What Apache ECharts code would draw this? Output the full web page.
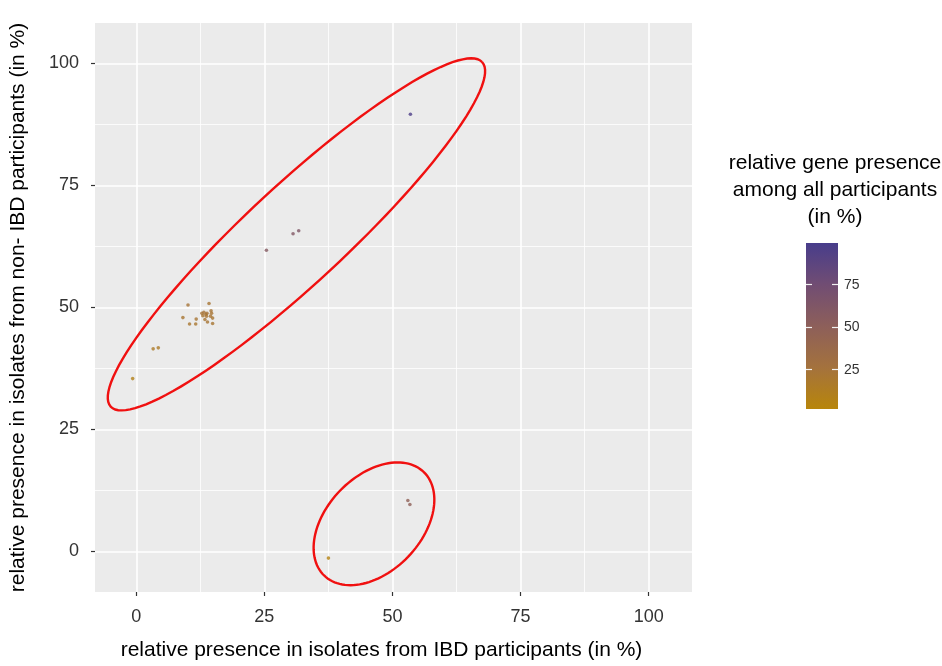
<!DOCTYPE html>
<html>
<head>
<meta charset="utf-8">
<script src="https://cdn.jsdelivr.net/npm/echarts@6/dist/echarts.min.js"></script>
<style>
  html, body { margin: 0; padding: 0; background: #ffffff; }
  #chart { width: 942px; height: 666px; }
</style>
</head>
<body>
<div id="chart"></div>
<script>
// values
const ibdPresence = [53.5, 25.4, 30.6, 31.7, 10.1, 14.2, 14.6, 12.8, 13.2, 13.6, 13.8, 13.0, 13.7, 14.7, 14.5, 14.9, 13.9, 14.9, 11.7, 11.6, 9.1, 10.4, 13.4, 3.3, 4.3, -0.7, 53.0, 53.4, 37.5];
const nonIbdPresence = [89.6, 61.7, 65.1, 65.7, 50.5, 50.8, 49.3, 48.8, 49.0, 48.6, 48.8, 48.3, 48.2, 48.8, 48.2, 47.8, 47.0, 46.7, 47.6, 46.6, 47.9, 46.6, 47.5, 41.5, 41.7, 35.4, 10.4, 9.6, -1.4];
const allPresence = [96, 58, 60, 62, 24, 22, 23, 24, 25, 23, 24, 22, 23, 22, 23, 21, 22, 21, 22, 20, 21, 20, 23, 16, 16, 8, 48, 50, 5];

const majorTicks = [0, 25, 50, 75, 100];
const minorTicks = [12.5, 37.5, 62.5, 87.5];
const legendTicks = [25, 50, 75];

// ellipse outlines: centre, end of the long half-axis, end of the short half-axis
const ellipseCentre = [[31.26, 64.97], [46.39, 5.63]];
const ellipseLongTip = [[67.50, 100.29], [56.12, 16.23]];
const ellipseShortTip = [[37.77, 57.54], [53.03, -1.15]];

const colorMin = 1.9;
const colorMax = 99.5;
const rampColors = ['#B8860B', '#a4723d', '#8d5f5a', '#714d73', '#483D8B'];

const font = 'Liberation Sans, Arial, Helvetica, sans-serif';

let points = ibdPresence.map((x, i) => [x, nonIbdPresence[i], allPresence[i]]);
let ellipses = ellipseCentre.map((c, i) => [c[0], c[1], ellipseLongTip[i][0], ellipseLongTip[i][1], ellipseShortTip[i][0], ellipseShortTip[i][1]]);

const myChart = echarts.init(document.getElementById('chart'));

const mainAxisX = {
  gridIndex: 0,
  type: 'value',
  min: -8.05,
  max: 108.45,
  name: 'relative presence in isolates from IBD participants (in %)',
  nameLocation: 'middle',
  nameGap: 48,
  nameTextStyle: { fontFamily: font, fontSize: 21, color: '#000', padding: [0, 24, 0, 0] },
  axisLine: { show: false, onZero: false },
  axisTick: { show: true, length: 4, customValues: majorTicks, lineStyle: { color: '#333', width: 1.2 } },
  axisLabel: { customValues: majorTicks, margin: 16, fontFamily: font, fontSize: 18, color: '#333' },
  splitLine: { show: true, lineStyle: { color: '#ffffff', width: 1.6 } }
};

const mainAxisY = {
  gridIndex: 0,
  type: 'value',
  min: -8.35,
  max: 108.3,
  name: 'relative presence in isolates from non- IBD participants (in %)',
  nameLocation: 'middle',
  nameGap: 66,
  nameTextStyle: { fontFamily: font, fontSize: 21, color: '#000' },
  axisLine: { show: false, onZero: false },
  axisTick: { show: true, length: 4, customValues: majorTicks, lineStyle: { color: '#333', width: 1.2 } },
  axisLabel: { customValues: majorTicks, margin: 16, fontFamily: font, fontSize: 18, color: '#333' },
  splitLine: { show: true, lineStyle: { color: '#ffffff', width: 1.6 } }
};

const minorAxis = (min, max) => ({
  gridIndex: 0,
  type: 'value',
  min: min,
  max: max,
  axisLine: { show: false, onZero: false },
  axisTick: { show: false, customValues: minorTicks },
  axisLabel: { show: false },
  splitLine: { show: true, lineStyle: { color: '#ffffff', width: 0.8 } }
});

const option = {
  animation: false,
  backgroundColor: '#ffffff',
  title: {
    text: 'relative gene presence\namong all participants\n(in %)',
    left: 830,
    top: 145,
    textAlign: 'center',
    textStyle: { fontFamily: font, fontSize: 21, fontWeight: 'normal', color: '#000', lineHeight: 27 }
  },
  grid: [
    { left: 92, top: 23, width: 600, height: 570, show: true, backgroundColor: '#EBEBEB', borderWidth: 0 },
    {
      left: 806, top: 243, width: 32, height: 166, show: true, borderWidth: 0,
      backgroundColor: new echarts.graphic.LinearGradient(0, 0, 0, 1, rampColors.slice().reverse().map((c, i) => ({ offset: i / (rampColors.length - 1), color: c })))
    }
  ],
  xAxis: [
    mainAxisX,
    minorAxis(-8.05, 108.45),
    { gridIndex: 1, type: 'value', show: false, min: 0, max: 1 }
  ],
  yAxis: [
    mainAxisY,
    minorAxis(-8.35, 108.3),
    {
      gridIndex: 1, type: 'value', min: colorMin, max: colorMax, position: 'right',
      axisLine: { show: false, onZero: false },
      axisTick: { show: true, inside: true, length: 6, customValues: legendTicks, lineStyle: { color: '#f2f2f2', width: 1.2 } },
      axisLabel: { customValues: legendTicks, margin: 6, fontFamily: font, fontSize: 14, color: '#333' },
      splitLine: { show: false }
    },
    {
      gridIndex: 1, type: 'value', min: colorMin, max: colorMax, position: 'left',
      axisLine: { show: false, onZero: false },
      axisTick: { show: true, inside: true, length: 6, customValues: legendTicks, lineStyle: { color: '#f2f2f2', width: 1.2 } },
      axisLabel: { show: false },
      splitLine: { show: false }
    }
  ],
  visualMap: {
    show: false,
    type: 'continuous',
    seriesIndex: 0,
    dimension: 2,
    min: colorMin,
    max: colorMax,
    inRange: { color: rampColors }
  },
  series: [
    {
      type: 'scatter',
      xAxisIndex: 0,
      yAxisIndex: 0,
      symbolSize: 3.6,
      data: points,
      z: 3
    },
    {
      type: 'custom',
      xAxisIndex: 0,
      yAxisIndex: 0,
      clip: true,
      data: ellipses,
      encode: { x: [0, 2, 4], y: [1, 3, 5] },
      z: 4,
      renderItem: function (params, api) {
        let c = api.coord([api.value(0), api.value(1)]);
        let a = api.coord([api.value(2), api.value(3)]);
        let b = api.coord([api.value(4), api.value(5)]);
        let pts = [];
        for (let k = 0; k <= 120; k++) {
          let t = (k / 120) * Math.PI * 2;
          pts.push([
            c[0] + Math.cos(t) * (a[0] - c[0]) + Math.sin(t) * (b[0] - c[0]),
            c[1] + Math.cos(t) * (a[1] - c[1]) + Math.sin(t) * (b[1] - c[1])
          ]);
        }
        return {
          type: 'polyline',
          shape: { points: pts },
          style: { stroke: '#f01010', lineWidth: 2.4, fill: null }
        };
      }
    }
  ]
};

myChart.setOption(option);
</script>
</body>
</html>
